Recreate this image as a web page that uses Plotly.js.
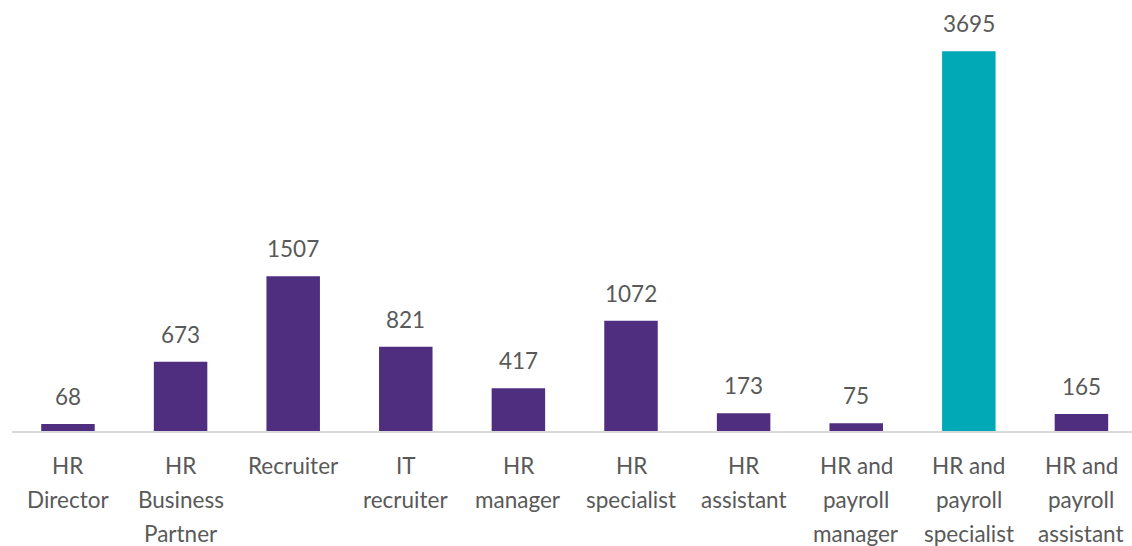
<!DOCTYPE html>
<html>
<head>
<meta charset="utf-8">
<script src="https://cdn.plot.ly/plotly-3.0.1.min.js"></script>
<style>html,body{margin:0;padding:0;background:#fff;}#chart{width:1132px;height:546px;}</style>
</head>
<body>
<div id="chart"></div>
<script>
var categories = ["HR<br>Director", "HR<br>Business<br>Partner", "Recruiter", "IT<br>recruiter", "HR<br>manager", "HR<br>specialist", "HR<br>assistant", "HR and<br>payroll<br>manager", "HR and<br>payroll<br>specialist", "HR and<br>payroll<br>assistant"];
var values = [68, 673, 1507, 821, 417, 1072, 173, 75, 3695, 165];
var barColors = ["#4f2d7f", "#4f2d7f", "#4f2d7f", "#4f2d7f", "#4f2d7f", "#4f2d7f", "#4f2d7f", "#4f2d7f", "#00a9b5", "#4f2d7f"];

var FONT = "Lato, 'Noto Sans', sans-serif";
var TXT = "#595959";
var FS = 22.5;

var annotations = [];
categories.forEach(function (c, i) {
  annotations.push({
    x: i, y: values[i], xref: "x", yref: "y",
    text: String(values[i]), showarrow: false,
    yanchor: "bottom", yshift: 12,
    font: {family: FONT, size: FS, color: TXT}
  });
  c.split("<br>").forEach(function (line, j) {
    annotations.push({
      x: i, y: 0, xref: "x", yref: "y",
      text: line, showarrow: false,
      yanchor: "top", yshift: -19 - 34 * j,
      font: {family: FONT, size: FS, color: TXT}
    });
  });
});

Plotly.newPlot("chart", [{
  type: "bar",
  x: categories.map(function (c, i) { return i; }),
  y: values,
  marker: {color: barColors},
  hoverinfo: "none"
}], {
  width: 1132, height: 546,
  margin: {l: 12, r: 0, t: 20, b: 115},
  paper_bgcolor: "#ffffff", plot_bgcolor: "#ffffff",
  bargap: 0.525,
  showlegend: false,
  xaxis: {range: [-0.497, 9.449], showticklabels: false, showgrid: false, zeroline: false,
          showline: true, linecolor: "#d9d9d9", linewidth: 2, ticks: ""},
  yaxis: {range: [0, 4000], visible: false, showgrid: false, zeroline: false},
  annotations: annotations
}, {displayModeBar: false, staticPlot: true});
</script>
</body>
</html>
